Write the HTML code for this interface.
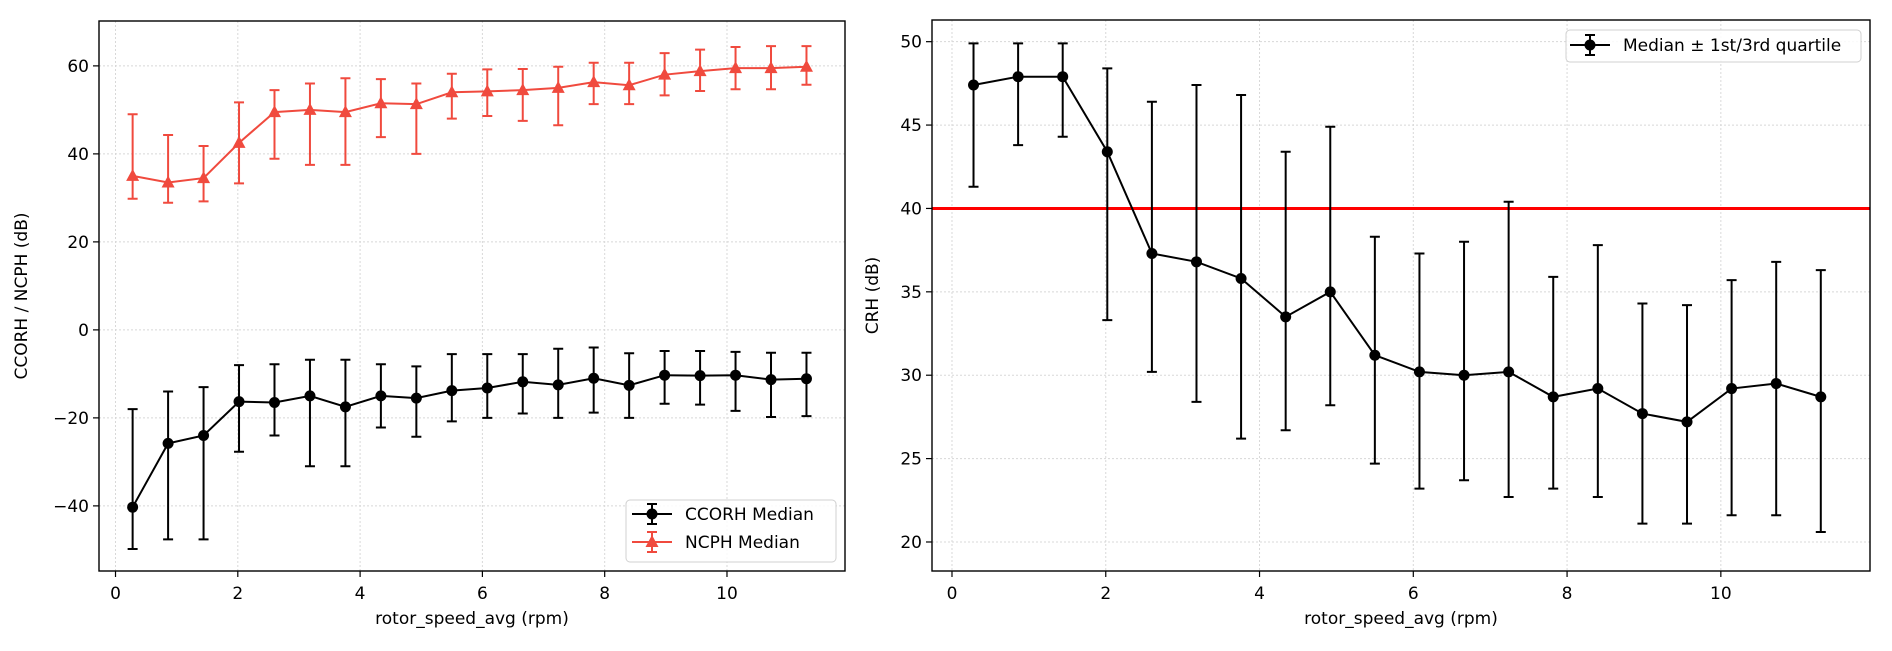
<!DOCTYPE html>
<html><head><meta charset="utf-8"><style>
body{margin:0;background:#fff;}
svg{display:block;font-family:"DejaVu Sans","Liberation Sans",sans-serif;}
</style></head><body>
<svg id="fig" width="1892" height="651" viewBox="0 0 1892 651"></svg>
<script>
const rpm=[0.28,0.86,1.44,2.02,2.6,3.18,3.76,4.34,4.92,5.5,6.08,6.66,7.24,7.82,8.4,8.98,9.56,10.14,10.72,11.3];
const ncphMed=[35,33.5,34.5,42.5,49.5,50,49.5,51.5,51.3,54,54.2,54.5,55,56.3,55.6,58,58.8,59.5,59.5,59.8];
const ncphHi=[49,44.3,41.8,51.7,54.5,56,57.2,57,56,58.2,59.2,59.3,59.8,60.7,60.7,62.9,63.7,64.3,64.5,64.5];
const ncphLo=[29.8,28.9,29.2,33.3,38.9,37.5,37.5,43.8,40,48,48.6,47.5,46.5,51.3,51.3,53.3,54.3,54.7,54.7,55.7];
const ccMed=[-40.3,-25.8,-24,-16.3,-16.5,-15,-17.5,-15,-15.5,-13.8,-13.2,-11.8,-12.5,-11,-12.6,-10.3,-10.4,-10.3,-11.3,-11.1];
const ccHi=[-18,-14,-13,-8,-7.8,-6.8,-6.8,-7.8,-8.3,-5.5,-5.5,-5.5,-4.3,-4,-5.3,-4.8,-4.8,-5,-5.2,-5.2];
const ccLo=[-49.8,-47.6,-47.6,-27.7,-24,-31,-31,-22.2,-24.3,-20.8,-20,-19,-20,-18.8,-20,-16.8,-17,-18.4,-19.8,-19.6];
const crhMed=[47.4,47.9,47.9,43.4,37.3,36.8,35.8,33.5,35,31.2,30.2,30,30.2,28.7,29.2,27.7,27.2,29.2,29.5,28.7];
const crhHi=[49.9,49.9,49.9,48.4,46.4,47.4,46.8,43.4,44.9,38.3,37.3,38,40.4,35.9,37.8,34.3,34.2,35.7,36.8,36.3];
const crhLo=[41.3,43.8,44.3,33.3,30.2,28.4,26.2,26.7,28.2,24.7,23.2,23.7,22.7,23.2,22.7,21.1,21.1,21.6,21.6,20.6];
const xTicks=[0,2,4,6,8,10];
const leftYTicks=[-40,-20,0,20,40,60];
const rightYTicks=[20,25,30,35,40,45,50];
const threshold=[40];

const NS="http://www.w3.org/2000/svg";
const svg=document.getElementById('fig');
function el(tag,attrs,parent){const e=document.createElementNS(NS,tag);for(const k in attrs)e.setAttribute(k,attrs[k]);(parent||svg).appendChild(e);return e;}
function lin(d0,d1,r0,r1){return v=>r0+(v-d0)*(r1-r0)/(d1-d0);}

function axes(name,L,R,T,B,xlim,ylim,yticks,ylabel){
  const g=el('g',{});
  
  
  const x=lin(xlim[0],xlim[1],L,R), y=lin(ylim[0],ylim[1],B,T);
  xTicks.forEach(t=>{
    const gl=el('line',{x1:x(t),x2:x(t),y1:T,y2:B,stroke:'#d8d8d8','stroke-width':1,'stroke-dasharray':'2,2'},g);
    
    
    el('line',{x1:x(t),x2:x(t),y1:B,y2:B+6,stroke:'#000','stroke-width':1.2},g);
    const tx=el('text',{x:x(t),y:B+28,'font-size':17,'text-anchor':'middle',fill:'#000'},g);
    tx.textContent=t;
    
    
  });
  yticks.forEach(t=>{
    const gl=el('line',{x1:L,x2:R,y1:y(t),y2:y(t),stroke:'#d8d8d8','stroke-width':1,'stroke-dasharray':'2,2'},g);
    
    
    el('line',{x1:L-6,x2:L,y1:y(t),y2:y(t),stroke:'#000','stroke-width':1.2},g);
    const tx=el('text',{x:L-10,y:y(t)+6,'font-size':17,'text-anchor':'end',fill:'#000'},g);
    tx.textContent=(t<0?'\u2212'+Math.abs(t):t);
    
    
  });
  const xl=el('text',{x:(L+R)/2,y:B+53,'font-size':17,'text-anchor':'middle'},g);
  xl.textContent='rotor_speed_avg (rpm)';
  
  
  const yl=el('text',{x:0,y:0,'font-size':17,'text-anchor':'middle',transform:`translate(${ylabel.x},${(T+B)/2}) rotate(-90)`},g);
  yl.textContent=ylabel.t;
  
  
  return {g,x,y,L,R,T,B};
}
function frame(a){
  const r=el('rect',{x:a.L,y:a.T,width:a.R-a.L,height:a.B-a.T,fill:'none',stroke:'#000','stroke-width':1.4});
  
  
}
function series(a,name,med,lo,hi,color,marker){
  const g=el('g',{});
  
  
  rpm.forEach((v,i)=>{
    const X=a.x(v);
    const eb=el('path',{d:`M${X},${a.y(lo[i])}V${a.y(hi[i])}M${X-5},${a.y(lo[i])}h10M${X-5},${a.y(hi[i])}h10`,stroke:color,'stroke-width':2,fill:'none'},g);
    
    
  });
  const pts=rpm.map((v,i)=>a.x(v)+','+a.y(med[i])).join(' ');
  const pl=el('polyline',{points:pts,fill:'none',stroke:color,'stroke-width':2},g);
  
  
  rpm.forEach((v,i)=>{
    const X=a.x(v),Y=a.y(med[i]);
    let m;
    if(marker==='o') m=el('circle',{cx:X,cy:Y,r:5.5,fill:color},g);
    else m=el('path',{d:`M${X},${Y-7}L${X+6.5},${Y+5}L${X-6.5},${Y+5}Z`,fill:color},g);
    
    
  });
}
function legendEntry(parent,x,y,color,marker,label){
  const g=el('g',{},parent);
  
  
  el('path',{d:`M${x},${y}h40M${x+20},${y-10}v20M${x+15},${y-10}h10M${x+15},${y+10}h10`,stroke:color,'stroke-width':2,fill:'none'},g);
  if(marker==='o') el('circle',{cx:x+20,cy:y,r:5.5,fill:color},g);
  else el('path',{d:`M${x+20},${y-7}L${x+26.5},${y+5}L${x+13.5},${y+5}Z`,fill:color},g);
  const t=el('text',{x:x+53,y:y+6,'font-size':17,fill:'#000'},g);
  t.textContent=label;
}

// Left
const A=axes('left-chart',99,845,21,571,[-0.27,11.93],[-54.8,70.2],leftYTicks,{x:27,t:'CCORH / NCPH (dB)'});
series(A,'ccorh-series',ccMed,ccLo,ccHi,'#000000','o');
series(A,'ncph-series',ncphMed,ncphLo,ncphHi,'#f04a3e','^');
frame(A);
const lg=el('g',{});


el('rect',{x:626,y:500,width:210,height:62,rx:4,fill:'#fff','fill-opacity':0.85,stroke:'#d0d0d0'},lg);
legendEntry(lg,632,514,'#000000','o','CCORH Median');
legendEntry(lg,632,542,'#f04a3e','^','NCPH Median');

// Right
const B2=axes('right-chart',932,1870,20,571,[-0.26,11.94],[18.26,51.3],rightYTicks,{x:878,t:'CRH (dB)'});
threshold.forEach(t=>{
  const h=el('line',{x1:932,x2:1870,y1:B2.y(t),y2:B2.y(t),stroke:'#ff0000','stroke-width':3});
  
  
});
series(B2,'crh-series',crhMed,crhLo,crhHi,'#000000','o');
frame(B2);
const rg=el('g',{});


el('rect',{x:1566,y:30,width:295,height:32,rx:4,fill:'#fff','fill-opacity':0.85,stroke:'#d0d0d0'},rg);
legendEntry(rg,1570,45,'#000000','o','Median \u00b1 1st/3rd quartile');
</script>
</body></html>
